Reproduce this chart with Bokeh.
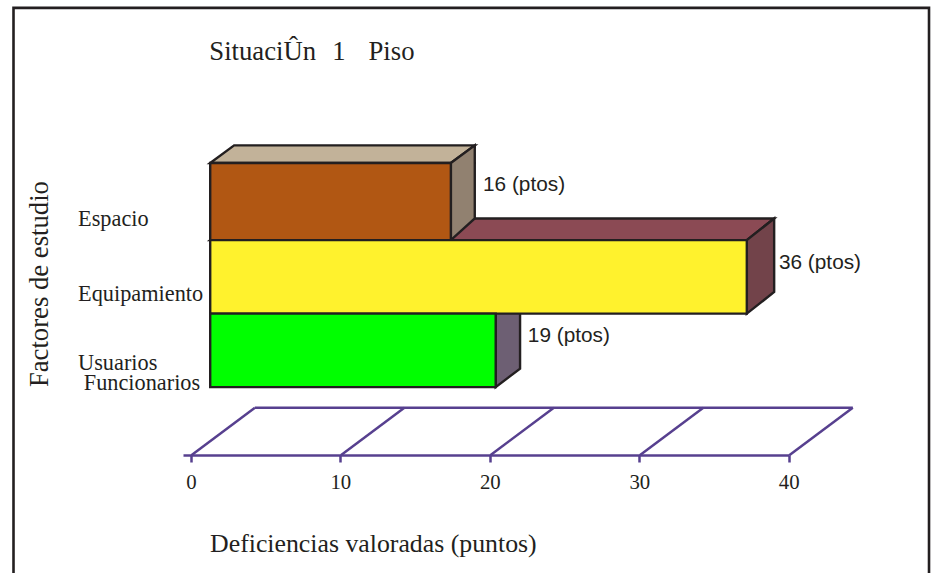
from math import pi
from bokeh.plotting import figure
from bokeh.models import LinearAxis, Range1d, FixedTicker
from bokeh.core.properties import value
from bokeh.embed import file_html
from bokeh.resources import INLINE

# ---- data
categories = ["Espacio", "Equipamiento", "Usuarios\nFuncionarios"]
bar_values = [16.1, 35.9, 19.1]
point_labels = ["16 (ptos)", "36 (ptos)", "19 (ptos)"]
x_ticks = [0, 10, 20, 30, 40]
title_words = ["SituaciÛn", "1", "Piso"]
x_title = "Deficiencias valoradas (puntos)"
y_title = "Factores de estudio"

# ---- layout (data units: x = points, y = bar bands)
W, H = 933, 573
X_MIN, X_MAX = -12.77, 49.65
Y_MIN, Y_MAX = -2.537, 5.262
BASE = 1.26
band_low = [2.0, 1.0, 0.0]
band_high = [3.05, 2.0, 1.0]
depth_x = [1.6, 1.83, 1.63]
depth_y = [0.24, 0.295, 0.25]
AXIS_Y = -0.926
FLOOR_DX, FLOOR_DY = 4.25, 0.644
INK = "#231f20"
PURPLE = "#57408f"
SERIF = "Liberation Serif"
SANS = "Liberation Sans"
front = ["#b15713", "#fff22d", "#00ff00"]
top = ["#c2b299", "#8b4a54", "#6d5f73"]
side = ["#918170", "#72434a", "#6d5f73"]
LW = 2.4

p = figure(width=W, height=H, output_backend="svg", toolbar_location=None,
           x_range=Range1d(X_MIN, X_MAX), y_range=Range1d(Y_MIN, Y_MAX),
           x_axis_type=None, y_axis_type=None, min_border=0, outline_line_color=None)
p.grid.visible = False


def poly(xs, ys, fill):
    p.patch(xs, ys, fill_color=fill, line_color=INK, line_width=LW, line_join="miter")


def bar_end(i):
    return BASE + bar_values[i]


def top_face(i):
    e = bar_end(i)
    poly([BASE, BASE + depth_x[i], e + depth_x[i], e],
         [band_high[i], band_high[i] + depth_y[i], band_high[i] + depth_y[i], band_high[i]], top[i])


def side_face(i, low_dy=None):
    e = bar_end(i)
    d = depth_y[i] if low_dy is None else low_dy
    poly([e, e + depth_x[i], e + depth_x[i], e],
         [band_high[i], band_high[i] + depth_y[i], band_low[i] + d, band_low[i]], side[i])


def front_face(i):
    p.quad(left=[BASE], right=[bar_end(i)], bottom=[band_low[i]], top=[band_high[i]],
           fill_color=front[i], line_color=INK, line_width=LW, line_join="miter")


# ---- floor and axis
for t in x_ticks:
    p.line([t, t + FLOOR_DX], [AXIS_Y, AXIS_Y + FLOOR_DY], line_color=PURPLE, line_width=2.5)
p.line([x_ticks[0] + FLOOR_DX, x_ticks[-1] + FLOOR_DX], [AXIS_Y + FLOOR_DY] * 2,
       line_color=PURPLE, line_width=2.5)

axis = LinearAxis(ticker=FixedTicker(ticks=x_ticks), fixed_location=AXIS_Y, bounds=(-0.5, x_ticks[-1]))
axis.axis_line_color = PURPLE
axis.axis_line_width = 2.5
axis.major_tick_line_color = PURPLE
axis.major_tick_line_width = 2.5
axis.major_tick_in = 0
axis.major_tick_out = 7
axis.minor_tick_line_color = None
axis.major_label_text_font = SERIF
axis.major_label_text_font_size = "20.8px"
axis.major_label_text_color = INK
axis.major_label_standoff = 13
p.add_layout(axis, "below")

# ---- bars, back to front
top_face(1)
side_face(1)
top_face(0)
side_face(0, low_dy=depth_y[1])
front_face(0)
side_face(2)
front_face(1)
front_face(2)

# ---- texts
serif = dict(text_font=value(SERIF), text_color=INK, text_baseline="middle")
for i, lab in enumerate(point_labels):
    p.text([bar_end(i) + 2.15], [band_high[i] - 0.285], text=[lab], text_font=value(SANS),
           text_font_size="20.8px", text_color=INK, text_baseline="middle")

LABEL_X = -7.58
SZ = "22.3px"
first, second = categories[2].split("\n")
p.text([LABEL_X], [2.30], text=[categories[0]], text_font_size=SZ, **serif)
p.text([LABEL_X], [1.27], text=[categories[1]], text_font_size=SZ, **serif)
p.text([LABEL_X], [0.34], text=[first], text_font_size=SZ, **serif)
p.text([LABEL_X + 0.38], [0.06], text=[second], text_font_size=SZ, **serif)

p.text([-10.2], [0.0], text=[y_title], angle=pi / 2, text_font_size="26.7px", **serif)
p.text([1.25], [-2.13], text=[x_title], text_font_size="25.8px", **serif)

p.text([1.2], [4.57], text=[title_words[0]], text_font_size="26.7px", **serif)
p.text([9.42], [4.57], text=[title_words[1]], text_font_size="26.7px", **serif)
p.text([11.85], [4.57], text=[title_words[2]], text_font_size="26.7px", **serif)

# ---- outer frame, open at the bottom
FL, FR, FT = -11.9, 49.35, 5.161
p.line([FL, FL, FR, FR], [Y_MIN, FT, FT, Y_MIN], line_color=INK, line_width=2.6, line_join="miter")

open("out.html", "w").write(file_html(p, INLINE))
